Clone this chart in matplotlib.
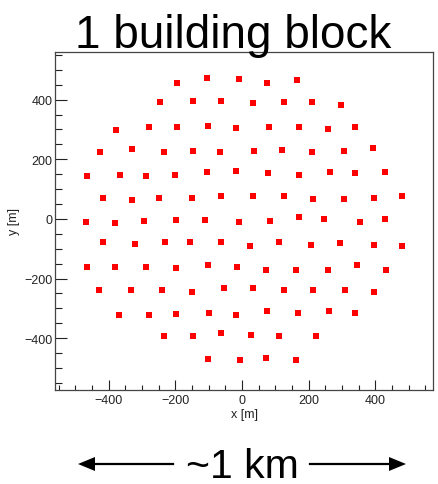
import matplotlib
matplotlib.use("Agg")
import matplotlib.pyplot as plt
from matplotlib.patches import Polygon
from matplotlib.lines import Line2D
from matplotlib.ticker import MultipleLocator

plt.rcParams['font.family'] = ['Liberation Sans', 'DejaVu Sans']

# Station positions of one building block [m]
station_x = [
    -194, -106, -10, 74, 166,
    -245, -146, -62, 33, 125, 210, 297,
    -377, -279, -194, -102, -18, 81, 170, 257, 338,
    -425, -330, -234, -146, -66, 37, 121, 210, 305, 393,
    -465, -366, -289, -201, -106, -18, 77, 170, 265, 338, 429,
    -418, -330, -249, -150, -62, 33, 125, 213, 305, 396, 480,
    -469, -380, -293, -198, -110, -10, 85, 170, 246, 353, 429,
    -418, -322, -231, -157, -62, 24, 111, 206, 294, 396, 481,
    -465, -380, -289, -198, -102, -14, 71, 162, 257, 345, 433,
    -429, -334, -241, -150, -55, 33, 125, 213, 309, 396,
    -370, -279, -198, -98, -18, 74, 169, 260, 338,
    -234, -146, -62, 28, 111, 221,
    -102, -7, 71, 162,
]
station_y = [
    457, 472, 469, 457, 465,
    391, 394, 394, 388, 391, 391, 383,
    297, 309, 309, 312, 305, 309, 309, 301, 309,
    223, 234, 223, 228, 223, 228, 231, 223, 228, 239,
    145, 149, 145, 149, 156, 160, 154, 146, 157, 154, 157,
    71, 63, 71, 71, 76, 76, 76, 67, 67, 71, 76,
    -11, -14, -7, -3, -3, -11, -7, 5, 0, -11, 0,
    -77, -85, -77, -77, -77, -92, -77, -88, -81, -88, -92,
    -163, -163, -163, -166, -155, -163, -171, -171, -171, -155, -171,
    -240, -240, -237, -245, -233, -233, -240, -240, -240, -245,
    -323, -323, -319, -315, -323, -310, -315, -310, -315,
    -392, -392, -384, -389, -392, -392,
    -471, -474, -466, -474,
]

title_text = "1 building block"
scale_text = "~1 km"

W, H = 439, 485
fig = plt.figure(figsize=(W / 100, H / 100), dpi=100)
ax = fig.add_axes([55 / W, 1 - 391 / H, 378.3 / W, 338.3 / H])

ax.scatter(station_x, station_y, marker='s', s=13, color='#ff0000',
           linewidths=0, zorder=3)

ax.set_xlim(-561, 574)
ax.set_ylim(-574, 561)
ax.xaxis.set_major_locator(MultipleLocator(200))
ax.xaxis.set_minor_locator(MultipleLocator(50))
ax.yaxis.set_major_locator(MultipleLocator(200))
ax.yaxis.set_minor_locator(MultipleLocator(50))

frame_col = '#444444'
for s in ax.spines.values():
    s.set_color(frame_col)
    s.set_linewidth(0.9)

ax.tick_params(axis='both', which='both', direction='in', top=False,
               right=False, colors='#222222', labelsize=9, width=0.8)
ax.tick_params(axis='x', which='major', length=7, pad=3)
ax.tick_params(axis='x', which='minor', length=3.5)
ax.tick_params(axis='y', which='major', length=8.5, pad=2)
ax.tick_params(axis='y', which='minor', length=5)

ax.set_xlabel("x [m]", fontsize=9, labelpad=1, color='#222222')
ax.set_ylabel("y [m]", fontsize=9, labelpad=3, color='#222222')

fig.text(233.5 / W, 1 - 48 / H, title_text, fontsize=33,
         ha='center', va='baseline', color='black')

# Scale bar below the plot
fig.text(242 / W, 7 / H, scale_text, fontsize=29.5, ha='center',
         va='baseline', color='black')

y_arrow = 1 - 465 / H
tf = fig.transFigure
for x_start, x_tip in [(173, 78), (310, 406)]:
    direction = 1 if x_tip > x_start else -1
    base = x_tip - direction * 17
    fig.add_artist(Line2D([x_start / W, base / W], [y_arrow, y_arrow],
                          transform=tf, color='black', lw=1.6))
    fig.add_artist(Polygon([[x_tip / W, y_arrow],
                            [base / W, y_arrow + 7 / H],
                            [base / W, y_arrow - 7 / H]],
                           closed=True, transform=tf, color='black', lw=0))

fig.savefig("out.png", dpi=100)
